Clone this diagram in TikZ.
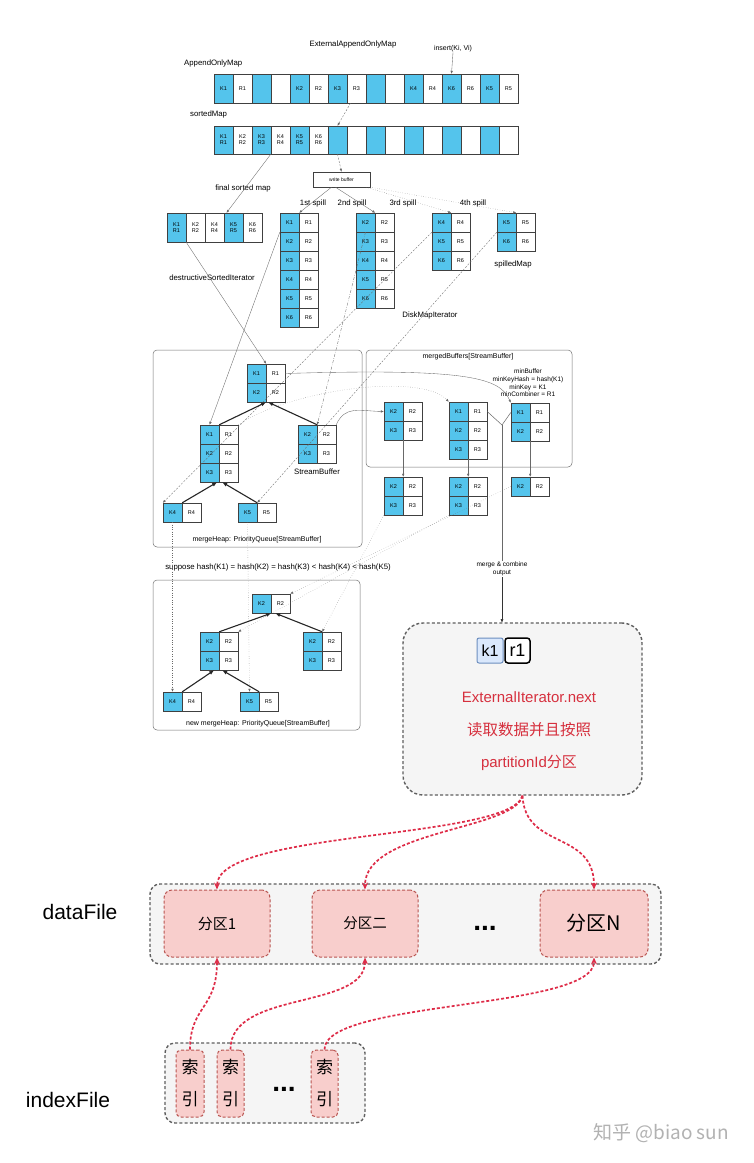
\documentclass[tikz,border=0pt]{standalone}
\usepackage{fontspec}
\setmainfont{Liberation Sans}
\newfontfamily\cjk{Noto Sans CJK SC}
\usetikzlibrary{arrows.meta}
\definecolor{keyblue}{RGB}{84,196,236}
\definecolor{linegray}{RGB}{105,105,105}
\definecolor{boxgray}{RGB}{245,245,245}
\definecolor{dashgray}{RGB}{95,95,95}
\definecolor{partfill}{RGB}{248,206,204}
\definecolor{partdraw}{RGB}{184,84,80}
\definecolor{arrred}{RGB}{222,44,72}
\definecolor{txtred}{RGB}{214,48,62}
\definecolor{kfill}{RGB}{218,232,252}
\definecolor{kdraw}{RGB}{108,142,191}
\tikzset{
  cell/.style={draw=black!75, line width=.4pt, minimum width=19pt, minimum height=19pt,
    inner sep=0pt, align=center, font=\fontsize{5.5}{6}\selectfont},
  kcell/.style={cell, fill=keyblue},
  rcell/.style={cell, fill=white},
  lbl/.style={inner sep=0pt, font=\fontsize{7.8}{9}\selectfont},
  frame/.style={draw=black!55, line width=.5pt, rounded corners=4pt},
  flow/.style={draw=linegray, line width=.35pt, -{Latex[length=3pt,width=2.4pt]}},
  dotline/.style={flow, dotted},
  dashline/.style={flow, dash pattern=on 2pt off 1.5pt},
  dashdot/.style={flow, dash pattern=on 3pt off 1.5pt on .6pt off 1.5pt},
  heap/.style={draw=black!85, line width=1.1pt, -{Latex[length=5pt,width=4pt]}},
  grayarea/.style={draw=dashgray, fill=boxgray, line width=1.4pt, dash pattern=on 3pt off 2.2pt},
  part/.style={draw=partdraw, fill=partfill, line width=1pt, dash pattern=on 3pt off 2pt, rounded corners=8pt},
  redarrow/.style={draw=arrred, line width=1.7pt, dash pattern=on 3pt off 2pt, -{Stealth[length=7pt,width=6pt]}},
}
% one stream buffer: name, left, top, key indices
\newcommand{\kvcol}[4]{%
  \foreach \n [count=\i] in {#4} {
    \node[kcell] (#1-k\i) at ({#2+9.5},{#3+9.5+19*(\i-1)}) {K\n};
    \node[rcell] (#1-r\i) at ({#2+28.5},{#3+9.5+19*(\i-1)}) {R\n};
  }%
}
\begin{document}
\begin{tikzpicture}[x=1pt,y=-1pt]
\useasboundingbox[fill=white] (0,0) rectangle (754,1163);
% frames
\draw[frame] (153,350) rectangle (362,547);
\draw[frame] (366,350) rectangle (572,467);
\draw[frame] (153,580) rectangle (360,730);
% labels
\node[lbl] (title) at (353,44) {ExternalAppendOnlyMap};
\node[lbl, font=\fontsize{7}{8}\selectfont] (ins) at (453,49) {insert(Ki, Vi)};
\node[lbl, anchor=west] (aomLbl) at (184,63) {AppendOnlyMap};
\node[lbl, anchor=west] (smLbl) at (190,114) {sortedMap};
\node[lbl] (fsmLbl) at (243,188) {final sorted map};
\node[lbl] (dsiLbl) at (212,278) {destructiveSortedIterator};
\node[lbl] (sp1) at (313,203) {1st spill};
\node[lbl] (sp2) at (352,203) {2nd spill};
\node[lbl] (sp3) at (403,203) {3rd spill};
\node[lbl] (sp4) at (473,203) {4th spill};
\node[lbl] (spLbl) at (513,264) {spilledMap};
\node[lbl] (dmiLbl) at (430,315) {DiskMapIterator};
\node[lbl] (sbLbl) at (317,472) {StreamBuffer};
\node[lbl, font=\fontsize{7}{8}\selectfont] (mhLbl) at (257,540) {mergeHeap: PriorityQueue[StreamBuffer]};
\node[lbl, font=\fontsize{7}{8}\selectfont] (mbLbl) at (468,357) {mergedBuffers[StreamBuffer]};
\node[lbl, align=center, font=\fontsize{6.5}{7.7}\selectfont] (minLbl) at (528,383)
  {minBuffer\\minKeyHash = hash(K1)\\minKey = K1\\minCombiner = R1};
\node[lbl] (supLbl) at (278,567) {suppose hash(K1) = hash(K2) = hash(K3) < hash(K4) < hash(K5)};
\node[lbl, font=\fontsize{7}{8}\selectfont] (nmhLbl) at (258,724) {new mergeHeap: PriorityQueue[StreamBuffer]};
\node[lbl, align=center, font=\fontsize{6.5}{8}\selectfont, fill=white, inner sep=1pt] (mco) at (502,569) {merge \& combine\\output};
% maps
\foreach \a/\b [count=\j] in {K1/R1,\relax/\relax,K2/R2,K3/R3,\relax/\relax,K4/R4,K6/R6,K5/R5} {
  \node[kcell, minimum height=29pt] (ak\j) at ({185.5+38*\j},88.5) {\a};
  \node[rcell, minimum height=29pt] (ar\j) at ({204.5+38*\j},88.5) {\b};
}
\foreach \a/\b [count=\j] in {K1\\R1/K2\\R2,K3\\R3/K4\\R4,K5\\R5/K6\\R6,\relax/\relax,\relax/\relax,\relax/\relax,\relax/\relax,\relax/\relax} {
  \node[kcell, minimum height=28pt] (bk\j) at ({185.5+38*\j},140) {\a};
  \node[rcell, minimum height=28pt] (br\j) at ({204.5+38*\j},140) {\b};
}
\foreach \s/\t [count=\i] in {kcell/K1\\R1,rcell/K2\\R2,rcell/K4\\R4,kcell/K5\\R5,rcell/K6\\R6}
  \node[\s, minimum height=29pt] (f\i) at ({157.5+19*\i},227.5) {\t};
\node[draw=black!75, fill=white, minimum width=57pt, minimum height=15pt, inner sep=0pt,
  font=\fontsize{5}{6}\selectfont] (buf) at (341.5,179.5) {write buffer};
% spills
\kvcol{s1}{280}{213}{1,2,3,4,5,6}
\kvcol{s2}{356}{213}{2,3,4,5,6}
\kvcol{s3}{432}{213}{4,5,6}
\kvcol{s4}{497}{213}{5,6}
% heaps
\kvcol{hT}{247}{364}{1,2}
\kvcol{hL}{200}{425}{1,2,3}
\kvcol{hR}{298}{425}{2,3}
\kvcol{hF}{163}{503}{4}
\kvcol{hV}{238}{503}{5}
\kvcol{mA}{384}{402}{2,3}
\kvcol{mB}{449}{402}{1,2,3}
\kvcol{mC}{511}{403}{1,2}
\kvcol{oA}{384}{477}{2,3}
\kvcol{oB}{449}{477}{2,3}
\kvcol{oC}{511}{477}{2}
\kvcol{nT}{252}{594}{2}
\kvcol{nL}{200}{632}{2,3}
\kvcol{nR}{303}{632}{2,3}
\kvcol{nF}{163}{692}{4}
\kvcol{nV}{240}{692}{5}
\coordinate (junc) at (502,425);
%edges
\draw[flow] (ins.south) -- (ak7.north);
\draw[dashline] ([xshift=-6pt]ar4.south) -- (bk4.north);
\draw[dashline] (bk4.south) -- (buf.north);
\draw[flow] (br2.south west) -- ([xshift=-7pt]f4.north);
\draw[flow] ([xshift=-10pt]buf.south) -- (s1-k1.north east);
\draw[flow] ([xshift=-6pt]buf.south) -- (s2-k1.north east);
\draw[dotline] ([xshift=-4pt]buf.south east) -- (s3-k1.north east);
\draw[dotline] (buf.south east) -- (s4-k1.north east);
\draw[flow] (f1.south east) -- (hT-k1.north east);
\draw[flow] (s1-k1.south west) -- (hL-k1.north);
\draw[dashdot] (s2-k1.south) -- (hR-k1.north east);
\draw[dashline] (s3-k1.south west) -- (hF-k1.north west);
\draw[dashline] (s4-k1.south west) -- (hV-k1.north east);
\draw[heap] (hL-k1.north east) -- (hT-k2.south east);
\draw[heap] (hR-k1.north east) -- ([xshift=2pt]hT-k2.south east);
\draw[heap] (hF-k1.north east) -- ([xshift=-2pt]hL-k3.south east);
\draw[heap] (hV-k1.north east) -- ([xshift=3pt]hL-k3.south east);
\draw[flow] (hT-r1.east) .. controls (470,368) and (500,378) .. (mC-k1.north west);
\draw[dotline] (hL-r1.north east) .. controls (290,390) and (420,372) .. (mB-k1.north west);
\draw[flow] (hR-r1.north east) .. controls (345,405) and (360,411) .. (mA-k1.west);
\draw[flow] (mA-k2.south east) -- (oA-k1.north east);
\draw[flow] (mB-k3.south east) -- (oB-k1.north east);
\draw[flow] (mC-k2.south east) -- (oC-k1.north east);
\draw[draw=linegray, line width=.5pt] (mB-r1.east) -- (junc) -- (mC-k1.west);
\draw[draw=linegray, line width=.5pt] (junc) -- (mco.north);
\draw[draw=black!80, line width=.6pt, -{Latex[length=4pt,width=3pt]}] (mco.south) -- (mco.south |- 522,623);
\draw[dotline] (oC-k1.west) -- (nT-r1.north east);
\draw[dotline] (oA-k2.south west) -- (nR-k1.north east);
\draw[dotline] (oB-k2.south west) -- (nL-r1.north east);
\draw[dotline] (hF-k1.south) -- (nF-k1.north);
\draw[dotline] (hV-k1.south) -- (nV-k1.north);
\draw[heap] (nL-k1.north east) -- (nT-k1.south east);
\draw[heap] (nR-k1.north east) -- ([xshift=4pt]nT-k1.south east);
\draw[heap] (nF-k1.north east) -- ([xshift=-5pt]nL-k2.south east);
\draw[heap] (nV-k1.north east) -- ([xshift=3pt]nL-k2.south east);
% iterator box
\node[grayarea, rounded corners=20pt, minimum width=239pt, minimum height=172pt] (ext) at (522.5,709) {};
\node[draw=kdraw, fill=kfill, rounded corners=2pt, line width=1pt, minimum width=26pt, minimum height=25pt,
  inner sep=0pt, font=\fontsize{16}{18}\selectfont] (kOne) at (490,650.5) {k1};
\node[draw=black, fill=white, rounded corners=3pt, line width=1.5pt, minimum width=25pt, minimum height=25pt,
  inner sep=0pt, font=\fontsize{18}{18}\selectfont] (rOne) at (517.5,650.5) {r1};
\node[text=txtred, font=\fontsize{15}{18}\selectfont] (nextLbl) at (529,697) {ExternalIterator.next};
\node[text=txtred, font=\cjk\fontsize{15.5}{18}\selectfont] (readLbl) at (529,730) {读取数据并且按照};
\node[text=txtred, font=\fontsize{15}{18}\selectfont] (pidLbl) at (529,763) {partitionId{\cjk 分区}};
% files
\node[grayarea, rounded corners=10pt, minimum width=511pt, minimum height=80pt] (data) at (405.5,924) {};
\node[grayarea, rounded corners=10pt, minimum width=200pt, minimum height=80pt] (index) at (265,1083) {};
\node[part, minimum width=106pt, minimum height=67pt, font=\cjk\fontsize{15}{18}\selectfont] (p1) at (217,923.5) {分区1};
\node[part, minimum width=106pt, minimum height=67pt, font=\cjk\fontsize{14.5}{18}\selectfont] (p2) at (365,923.5) {分区二};
\node[part, minimum width=108pt, minimum height=67pt, font=\cjk\fontsize{20}{22}\selectfont] (pN) at (594,923.5) {分区N};
\node[font=\bfseries\fontsize{28}{28}\selectfont] (dotsA) at (485,928) {...};
\node[part, rounded corners=5pt, minimum width=28pt, minimum height=67pt, inner sep=0pt, align=center,
  font=\cjk\fontsize{17}{32}\selectfont] (i1) at (190,1083.5) {索\\引};
\node[part, rounded corners=5pt, minimum width=27pt, minimum height=67pt, inner sep=0pt, align=center,
  font=\cjk\fontsize{17}{32}\selectfont] (i2) at (230.5,1083.5) {索\\引};
\node[part, rounded corners=5pt, minimum width=27pt, minimum height=67pt, inner sep=0pt, align=center,
  font=\cjk\fontsize{17}{32}\selectfont] (i3) at (324.5,1083.5) {索\\引};
\node[font=\bfseries\fontsize{28}{28}\selectfont] (dotsB) at (284,1089) {...};
\node[font=\fontsize{21}{24}\selectfont] (dataLbl) at (80,912) {dataFile};
\node[font=\fontsize{21}{24}\selectfont] (indexLbl) at (68,1100) {indexFile};
\node[text=black!30, font=\cjk\fontsize{19}{22}\selectfont] (mark) at (661,1133) {知乎 @biao sun};
% red edges
\draw[redarrow] (ext.south) .. controls (510,840) and (217,830) .. (p1.north);
\draw[redarrow] (ext.south) .. controls (515,830) and (365,830) .. (p2.north);
\draw[redarrow] (ext.south) .. controls (525,850) and (594,830) .. (pN.north);
\draw[redarrow] (i1.north) .. controls (190,1005) and (217,1010) .. (p1.south);
\draw[redarrow] (i2.north) .. controls (230,990) and (365,1010) .. (p2.south);
\draw[redarrow] (i3.north) .. controls (324,1000) and (594,1010) .. (pN.south);
\end{tikzpicture}
\end{document}
